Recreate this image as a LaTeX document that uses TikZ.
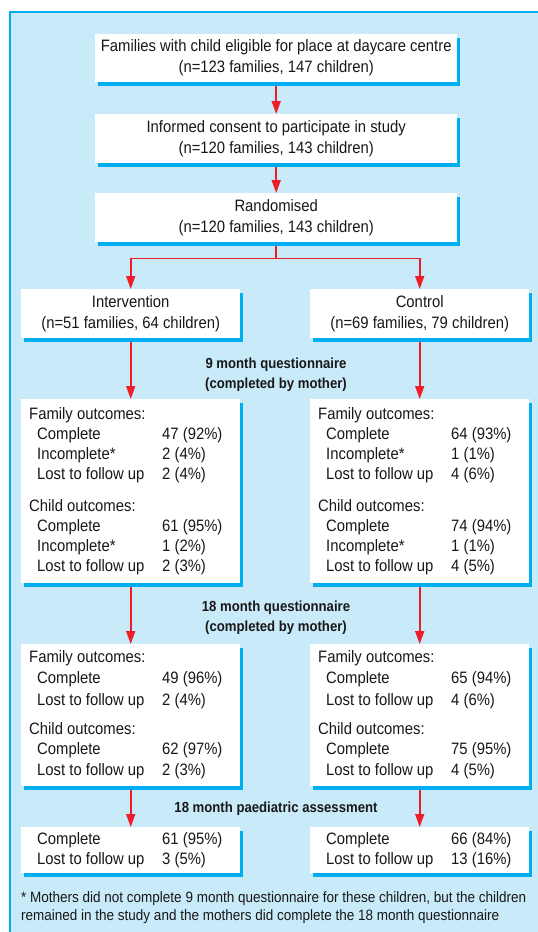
\documentclass[tikz,border=0pt]{standalone}
\usepackage{fontspec}
\setmainfont[FakeStretch=0.9]{Liberation Sans}
\usetikzlibrary{arrows.meta,shadows}
\definecolor{bgblue}{HTML}{C8EAF9}
\definecolor{frameblue}{HTML}{00AEEF}
\definecolor{arrowred}{HTML}{EE1D27}
\definecolor{txt}{HTML}{1A1718}
\pgfdeclarelayer{bg}
\pgfsetlayers{bg,main}
\newcommand{\ohead}[4]{\node[rowtxt] (#1) at ({#2+8},#3) {#4};}
\newcommand{\orow}[5]{\node[rowtxt] (#1a) at ({#2+16},#3) {#4};\node[rowtxt] (#1b) at ({#2+141},#3) {#5};}
\begin{document}
\begin{tikzpicture}[x=1pt,y=-1pt,
  every node/.style={text=txt},
  box/.style={fill=white, inner sep=0pt, anchor=north west, align=center,
    general shadow={fill=frameblue, shadow xshift=3pt, shadow yshift=-3.5pt},
    font=\fontsize{16.5}{21}\selectfont},
  rowtxt/.style={anchor=west, inner sep=0pt, text height=12pt, text depth=0pt,
    font=\fontsize{16.5}{20}\selectfont},
  stage/.style={inner sep=0pt, align=center, font=\bfseries\fontsize{14.6}{20}\selectfont},
  flow/.style={draw=arrowred, line width=1.6pt, -{Triangle[length=13pt,width=9pt]}},
  flowline/.style={draw=arrowred, line width=1.6pt}
]
\useasboundingbox (0,0) rectangle (538,932);
\begin{pgfonlayer}{bg}
  \fill[bgblue] (10,12) rectangle (538,932);
  \draw[frameblue, line width=1.2pt] (10,932) -- (10,12) -- (538,12);
\end{pgfonlayer}

% top boxes
\node[box, minimum width=362pt, minimum height=48pt] (b1) at (95,34)
  {Families with child eligible for place at daycare centre\\(n=123 families, 147 children)};
\node[box, minimum width=362pt, minimum height=49pt] (b2) at (95,114)
  {Informed consent to participate in study\\(n=120 families, 143 children)};
\node[box, minimum width=362pt, minimum height=49pt] (b3) at (95,193)
  {Randomised\\(n=120 families, 143 children)};
\node[box, minimum width=219pt, minimum height=49pt] (int) at (21,289)
  {Intervention\\(n=51 families, 64 children)};
\node[box, minimum width=219pt, minimum height=49pt] (ctl) at (310,289)
  {Control\\(n=69 families, 79 children)};

% stage labels
\node[stage] (s9) at (276,375) {9 month questionnaire\\(completed by mother)};
\node[stage] (s18) at (276,618) {18 month questionnaire\\(completed by mother)};
\node[stage] (sp) at (276,809) {18 month paediatric assessment};

% outcome boxes
\node[box, minimum width=219pt, minimum height=184pt] (n9L) at (21,399) {};
\node[box, minimum width=219pt, minimum height=184pt] (n9R) at (310,399) {};
\node[box, minimum width=219pt, minimum height=142pt] (m18L) at (21,644) {};
\node[box, minimum width=219pt, minimum height=142pt] (m18R) at (310,644) {};
\node[box, minimum width=219pt, minimum height=46pt] (pL) at (21,827) {};
\node[box, minimum width=219pt, minimum height=46pt] (pR) at (310,827) {};

% 9 month, intervention
\ohead{aLf}{21}{413}{Family outcomes:}
\orow{aL1}{21}{433}{Complete}{47 (92\%)}
\orow{aL2}{21}{453}{Incomplete*}{2 (4\%)}
\orow{aL3}{21}{473}{Lost to follow up}{2 (4\%)}
\ohead{aLc}{21}{505}{Child outcomes:}
\orow{aL4}{21}{525}{Complete}{61 (95\%)}
\orow{aL5}{21}{545}{Incomplete*}{1 (2\%)}
\orow{aL6}{21}{565}{Lost to follow up}{2 (3\%)}
% 9 month, control
\ohead{aRf}{310}{413}{Family outcomes:}
\orow{aR1}{310}{433}{Complete}{64 (93\%)}
\orow{aR2}{310}{453}{Incomplete*}{1 (1\%)}
\orow{aR3}{310}{473}{Lost to follow up}{4 (6\%)}
\ohead{aRc}{310}{505}{Child outcomes:}
\orow{aR4}{310}{525}{Complete}{74 (94\%)}
\orow{aR5}{310}{545}{Incomplete*}{1 (1\%)}
\orow{aR6}{310}{565}{Lost to follow up}{4 (5\%)}
% 18 month, intervention
\ohead{bLf}{21}{656}{Family outcomes:}
\orow{bL1}{21}{677}{Complete}{49 (96\%)}
\orow{bL2}{21}{699}{Lost to follow up}{2 (4\%)}
\ohead{bLc}{21}{728}{Child outcomes:}
\orow{bL3}{21}{748}{Complete}{62 (97\%)}
\orow{bL4}{21}{769}{Lost to follow up}{2 (3\%)}
% 18 month, control
\ohead{bRf}{310}{656}{Family outcomes:}
\orow{bR1}{310}{677}{Complete}{65 (94\%)}
\orow{bR2}{310}{699}{Lost to follow up}{4 (6\%)}
\ohead{bRc}{310}{728}{Child outcomes:}
\orow{bR3}{310}{748}{Complete}{75 (95\%)}
\orow{bR4}{310}{769}{Lost to follow up}{4 (5\%)}
% paediatric
\orow{cL1}{21}{838}{Complete}{61 (95\%)}
\orow{cL2}{21}{858}{Lost to follow up}{3 (5\%)}
\orow{cR1}{310}{838}{Complete}{66 (84\%)}
\orow{cR2}{310}{858}{Lost to follow up}{13 (16\%)}

% footnote
\node[anchor=west, inner sep=0pt, align=left, font=\fontsize{15}{18}\selectfont] (fn) at (21,908)
  {* Mothers did not complete 9 month questionnaire for these children, but the children\\
   remained in the study and the mothers did complete the 18 month questionnaire};

% connectors
\begin{pgfonlayer}{bg}
  \draw[flow] (b1.south) -- (b2.north);
  \draw[flow] (b2.south) -- (b3.north);
  \coordinate (split) at ([yshift=-16pt]b3.south);
  \draw[flowline] (b3.south) -- (split);
  \draw[flow] (split) -| (int.north);
  \draw[flow] (split) -| (ctl.north);
  \draw[flow] (int.south) -- (n9L.north);
  \draw[flow] (ctl.south) -- (n9R.north);
  \draw[flow] (n9L.south) -- (m18L.north);
  \draw[flow] (n9R.south) -- (m18R.north);
  \draw[flow] (m18L.south) -- (pL.north);
  \draw[flow] (m18R.south) -- (pR.north);
\end{pgfonlayer}
\end{tikzpicture}
\end{document}
